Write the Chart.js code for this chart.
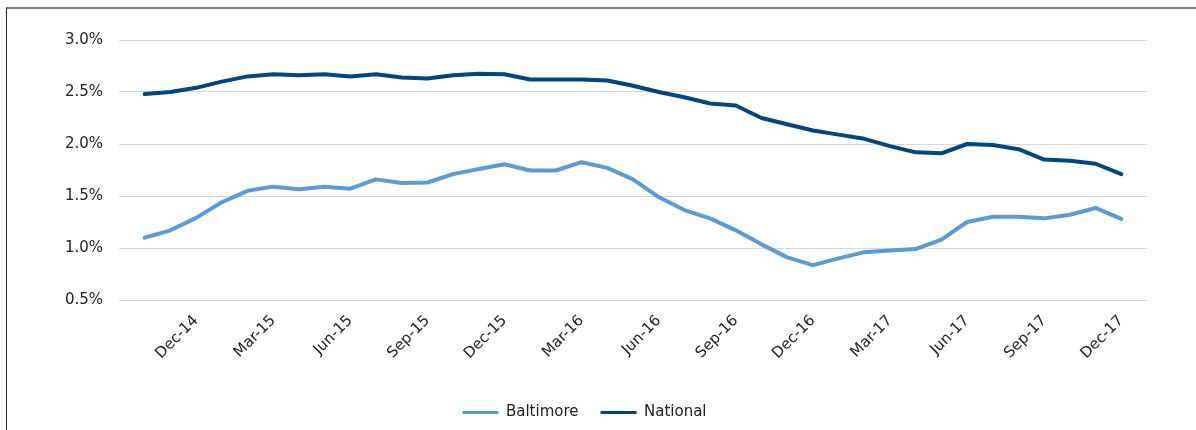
<!DOCTYPE html>
<html>
<head>
<meta charset="utf-8">
<script src="https://cdn.jsdelivr.net/npm/chart.js@4/dist/chart.umd.min.js"></script>
<style>
  html, body { margin: 0; padding: 0; background: #fff; }
  #wrap { position: relative; width: 1196px; height: 430px; overflow: hidden; }
  #frame { position: absolute; left: 6px; top: 7px; right: 0; bottom: 0; border-top: 2px solid #7f7f7f; border-left: 1px solid #222; pointer-events: none; }
  canvas { position: absolute; left: 0; top: 0; }
</style>
</head>
<body>
<div id="wrap">
  <canvas id="chart" width="1196" height="430"></canvas>
  <div id="frame"></div>
</div>
<script>
// monthly series, Oct-14 .. Dec-17
const months = [
  'Oct-14', 'Nov-14', 'Dec-14',
  'Jan-15', 'Feb-15', 'Mar-15', 'Apr-15', 'May-15', 'Jun-15', 'Jul-15', 'Aug-15', 'Sep-15', 'Oct-15', 'Nov-15', 'Dec-15',
  'Jan-16', 'Feb-16', 'Mar-16', 'Apr-16', 'May-16', 'Jun-16', 'Jul-16', 'Aug-16', 'Sep-16', 'Oct-16', 'Nov-16', 'Dec-16',
  'Jan-17', 'Feb-17', 'Mar-17', 'Apr-17', 'May-17', 'Jun-17', 'Jul-17', 'Aug-17', 'Sep-17', 'Oct-17', 'Nov-17', 'Dec-17'
];
const quarterLabels = ['Dec-14', 'Mar-15', 'Jun-15', 'Sep-15', 'Dec-15', 'Mar-16', 'Jun-16', 'Sep-16', 'Dec-16', 'Mar-17', 'Jun-17', 'Sep-17', 'Dec-17'];

const baltimore = [
  1.10, 1.17, 1.29,
  1.44, 1.55, 1.59, 1.565, 1.59, 1.57, 1.66, 1.625, 1.63, 1.71, 1.76, 1.805,
  1.745, 1.745, 1.825, 1.77, 1.66, 1.49, 1.365, 1.285, 1.17, 1.035, 0.91, 0.835,
  0.90, 0.96, 0.975, 0.99, 1.08, 1.25, 1.30, 1.30, 1.285, 1.32, 1.385, 1.28
];
const national = [
  2.48, 2.50, 2.54,
  2.60, 2.65, 2.67, 2.66, 2.67, 2.65, 2.67, 2.64, 2.63, 2.66, 2.675, 2.67,
  2.62, 2.62, 2.62, 2.61, 2.56, 2.50, 2.45, 2.39, 2.37, 2.25, 2.19, 2.13,
  2.09, 2.05, 1.98, 1.92, 1.91, 2.00, 1.99, 1.95, 1.85, 1.84, 1.81, 1.71
];

const FONT = { family: '"DejaVu Sans", sans-serif', size: 15 };
const TEXT = '#222';

// blank slot at each end so the lines start one step in from the plot edges
const labels = ['', ...months, ''];
const pad = arr => [null, ...arr, null];

new Chart(document.getElementById('chart'), {
  type: 'line',
  data: {
    labels: labels,
    datasets: [
      { label: 'Baltimore', data: pad(baltimore), borderColor: '#5B9BD5', backgroundColor: '#5B9BD5', borderWidth: 4, pointRadius: 0, tension: 0, borderJoinStyle: 'round', borderCapStyle: 'round' },
      { label: 'National', data: pad(national), borderColor: '#00467F', backgroundColor: '#00467F', borderWidth: 4, pointRadius: 0, tension: 0, borderJoinStyle: 'round', borderCapStyle: 'round' }
    ]
  },
  options: {
    responsive: false,
    animation: false,
    layout: { padding: { left: 22, right: 49, top: 40, bottom: 0 } },
    plugins: {
      tooltip: { enabled: false },
      legend: {
        position: 'bottom',
        labels: {
          color: TEXT, font: FONT, boxWidth: 36, boxHeight: 3, padding: 22,
          generateLabels: chart => Chart.defaults.plugins.legend.labels.generateLabels(chart).map(l => ({ ...l, lineWidth: 0 }))
        }
      }
    },
    scales: {
      x: {
        type: 'category',
        offset: false,
        grid: { display: false },
        border: { display: false },
        ticks: {
          autoSkip: false, minRotation: 45, maxRotation: 45, padding: 4,
          color: TEXT, font: FONT,
          callback: function (v, i) { const l = labels[i]; return quarterLabels.includes(l) ? l : ''; }
        },
        afterFit: s => { s.height = 83; }
      },
      y: {
        min: 0.5, max: 3.0,
        grid: { color: '#d9d9d9', lineWidth: 1, drawTicks: false },
        border: { display: false },
        ticks: { stepSize: 0.5, padding: 16, color: TEXT, font: FONT, callback: v => v.toFixed(1) + '%' },
        afterFit: s => { s.width = 97; }
      }
    }
  }
});
</script>
</body>
</html>
